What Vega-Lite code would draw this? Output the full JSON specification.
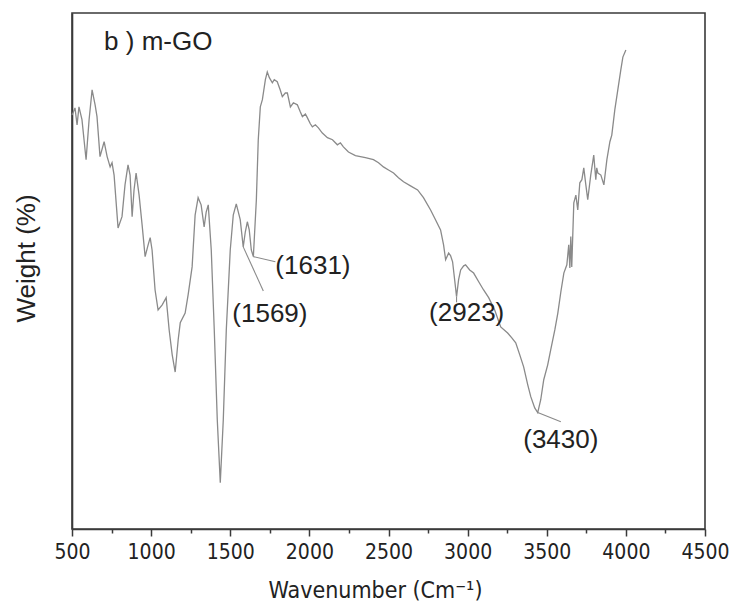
{
  "$schema": "https://vega.github.io/schema/vega-lite/v6.json",
  "width": 633,
  "height": 516,
  "autosize": {"type": "none"},
  "padding": {"left": 72, "top": 13, "right": 26, "bottom": 83},
  "background": "white",
  "config": {
    "font": "Liberation Sans",
    "view": {"stroke": "#3a3a3a", "strokeWidth": 1.6}
  },
  "datasets": {
    "spectrum": [
      {"wn":500,"v":79.1},{"wn":506,"v":79.5},{"wn":519,"v":80.5},{"wn":532,"v":77.2},{"wn":544,"v":80.7},{"wn":563,"v":78.2},{"wn":589,"v":70.4},{"wn":608,"v":78.2},{"wn":627,"v":84.0},{"wn":646,"v":81.1},{"wn":658,"v":78.8},{"wn":677,"v":71.0},{"wn":703,"v":73.9},{"wn":722,"v":71.0},{"wn":741,"v":69.0},{"wn":753,"v":69.8},{"wn":766,"v":67.4},{"wn":791,"v":57.1},{"wn":816,"v":59.3},{"wn":835,"v":65.5},{"wn":854,"v":69.4},{"wn":867,"v":67.4},{"wn":880,"v":59.3},{"wn":892,"v":64.5},{"wn":905,"v":67.8},{"wn":924,"v":63.5},{"wn":943,"v":57.7},{"wn":962,"v":51.5},{"wn":981,"v":53.8},{"wn":994,"v":55.2},{"wn":1006,"v":52.8},{"wn":1025,"v":45.0},{"wn":1044,"v":41.1},{"wn":1070,"v":42.1},{"wn":1095,"v":43.5},{"wn":1114,"v":37.2},{"wn":1133,"v":32.4},{"wn":1152,"v":29.0},{"wn":1171,"v":35.3},{"wn":1184,"v":38.6},{"wn":1215,"v":40.5},{"wn":1234,"v":44.1},{"wn":1259,"v":49.5},{"wn":1278,"v":59.6},{"wn":1297,"v":63.0},{"wn":1316,"v":61.6},{"wn":1335,"v":57.3},{"wn":1348,"v":60.2},{"wn":1361,"v":61.6},{"wn":1380,"v":52.8},{"wn":1399,"v":37.2},{"wn":1418,"v":19.7},{"wn":1437,"v":7.4},{"wn":1456,"v":19.7},{"wn":1475,"v":37.2},{"wn":1500,"v":52.8},{"wn":1519,"v":59.6},{"wn":1538,"v":61.8},{"wn":1563,"v":58.7},{"wn":1582,"v":53.4},{"wn":1595,"v":56.3},{"wn":1608,"v":58.3},{"wn":1620,"v":56.7},{"wn":1633,"v":52.8},{"wn":1646,"v":51.5},{"wn":1665,"v":62.6},{"wn":1677,"v":74.3},{"wn":1690,"v":80.7},{"wn":1703,"v":82.1},{"wn":1722,"v":86.0},{"wn":1734,"v":87.5},{"wn":1747,"v":86.4},{"wn":1766,"v":85.4},{"wn":1778,"v":86.0},{"wn":1797,"v":85.6},{"wn":1816,"v":84.0},{"wn":1829,"v":82.7},{"wn":1848,"v":83.4},{"wn":1861,"v":83.4},{"wn":1880,"v":80.7},{"wn":1899,"v":81.5},{"wn":1924,"v":81.1},{"wn":1943,"v":79.7},{"wn":1956,"v":78.8},{"wn":1975,"v":79.3},{"wn":1987,"v":78.6},{"wn":2006,"v":77.4},{"wn":2019,"v":76.8},{"wn":2038,"v":77.2},{"wn":2057,"v":76.6},{"wn":2082,"v":75.6},{"wn":2114,"v":74.7},{"wn":2146,"v":74.3},{"wn":2177,"v":73.3},{"wn":2196,"v":73.7},{"wn":2215,"v":72.9},{"wn":2247,"v":71.9},{"wn":2291,"v":71.2},{"wn":2354,"v":70.8},{"wn":2405,"v":70.4},{"wn":2437,"v":69.8},{"wn":2468,"v":69.0},{"wn":2500,"v":68.4},{"wn":2532,"v":67.8},{"wn":2563,"v":66.9},{"wn":2595,"v":66.1},{"wn":2639,"v":65.3},{"wn":2684,"v":64.5},{"wn":2721,"v":63.0},{"wn":2766,"v":60.6},{"wn":2797,"v":58.7},{"wn":2829,"v":56.7},{"wn":2848,"v":53.8},{"wn":2861,"v":50.9},{"wn":2880,"v":52.2},{"wn":2892,"v":51.7},{"wn":2905,"v":50.5},{"wn":2918,"v":47.0},{"wn":2930,"v":43.7},{"wn":2943,"v":47.0},{"wn":2956,"v":48.9},{"wn":2975,"v":49.7},{"wn":2987,"v":49.9},{"wn":3013,"v":48.9},{"wn":3038,"v":48.3},{"wn":3070,"v":46.6},{"wn":3101,"v":45.0},{"wn":3133,"v":43.5},{"wn":3171,"v":41.1},{"wn":3209,"v":37.8},{"wn":3253,"v":36.6},{"wn":3278,"v":35.7},{"wn":3304,"v":34.7},{"wn":3329,"v":32.4},{"wn":3354,"v":30.0},{"wn":3380,"v":26.5},{"wn":3399,"v":24.2},{"wn":3424,"v":22.0},{"wn":3443,"v":21.1},{"wn":3462,"v":23.6},{"wn":3481,"v":27.5},{"wn":3506,"v":30.4},{"wn":3525,"v":33.3},{"wn":3551,"v":37.2},{"wn":3570,"v":40.5},{"wn":3589,"v":44.6},{"wn":3608,"v":48.3},{"wn":3627,"v":49.9},{"wn":3639,"v":53.8},{"wn":3646,"v":49.3},{"wn":3652,"v":55.4},{"wn":3658,"v":49.5},{"wn":3671,"v":62.0},{"wn":3684,"v":63.5},{"wn":3696,"v":60.6},{"wn":3709,"v":65.9},{"wn":3722,"v":66.5},{"wn":3734,"v":68.8},{"wn":3747,"v":65.5},{"wn":3759,"v":62.6},{"wn":3778,"v":67.4},{"wn":3797,"v":71.3},{"wn":3810,"v":66.5},{"wn":3816,"v":68.8},{"wn":3823,"v":67.8},{"wn":3842,"v":67.4},{"wn":3861,"v":65.5},{"wn":3880,"v":70.4},{"wn":3899,"v":73.9},{"wn":3911,"v":75.2},{"wn":3930,"v":80.1},{"wn":3949,"v":84.0},{"wn":3968,"v":87.9},{"wn":3981,"v":90.4},{"wn":4000,"v":91.8}
    ],
    "leaders": [
      {"wn":1646,"v":51.5,"wn2":1785,"v2":50.5},
      {"wn":1582,"v":53.4,"wn2":1709,"v2":44.8},
      {"wn":2930,"v":43.7,"wn2":2930,"v2":42.6},
      {"wn":3443,"v":21.1,"wn2":3589,"v2":19.3}
    ],
    "labels": [
      {"wn":703,"v":93.4,"label":"b ) m-GO","align":"left"},
      {"wn":1785,"v":49.7,"label":"(1631)","align":"left"},
      {"wn":1513,"v":40.4,"label":"(1569)","align":"left"},
      {"wn":2994,"v":40.5,"label":"(2923)","align":"center"},
      {"wn":3589,"v":15.8,"label":"(3430)","align":"center"}
    ]
  },
  "resolve": {"axis": {"x": "independent", "y": "independent"}},
  "layer": [
    {
      "data": {"name": "spectrum"},
      "mark": {"type": "line", "color": "#8a8a8a", "strokeWidth": 1.3, "interpolate": "linear"},
      "encoding": {
        "x": {"field": "wn", "type": "quantitative",
              "scale": {"domain": [500, 4500], "nice": false, "zero": false},
              "axis": {"orient": "bottom", "values": [500,1000,1500,2000,2500,3000,3500,4000,4500],
                       "format": "d",
                       "tickSize": 7, "tickWidth": 1.5, "tickColor": "#3a3a3a",
                       "domainColor": "#3a3a3a", "domainWidth": 1.6,
                       "labelFont": "Liberation Sans Narrow, DejaVu Sans Condensed, sans-serif",
                       "labelFontSize": 21, "labelColor": "#222", "labelPadding": 5, "labelFlush": false,
                       "grid": false,
                       "title": "Wavenumber (Cm⁻¹)",
                       "titleFont": "Liberation Sans Narrow, DejaVu Sans Condensed, sans-serif",
                       "titleFontSize": 23, "titleFontWeight": "normal",
                       "titleColor": "#222", "titlePadding": 17, "titleX": 303}},
        "y": {"field": "v", "type": "quantitative",
              "scale": {"domain": [-1.6, 99.0], "nice": false, "zero": false},
              "axis": {"orient": "left", "ticks": false, "labels": false, "grid": false,
                       "domainColor": "#3a3a3a", "domainWidth": 1.6,
                       "title": "Weight (%)", "titleFontSize": 26, "titleFontWeight": "normal",
                       "titleColor": "#222", "titlePadding": 33, "titleY": 245}}
      }
    },
    {
      "data": {"name": "leaders"},
      "mark": {"type": "rule", "color": "#8a8a8a", "strokeWidth": 1.1},
      "encoding": {
        "x": {"field": "wn", "type": "quantitative",
              "axis": {"orient": "bottom", "values": [750,1250,1750,2250,2750,3250,3750,4250],
                       "tickSize": 4, "tickWidth": 1.5, "tickColor": "#3a3a3a", "labels": false,
                       "domain": false, "grid": false, "title": null}},
        "x2": {"field": "wn2"},
        "y": {"field": "v", "type": "quantitative", "axis": null},
        "y2": {"field": "v2"}
      }
    },
    {
      "data": {"name": "labels"},
      "transform": [{"filter": "datum.align === 'left'"}],
      "mark": {"type": "text", "fontSize": 26, "color": "#222", "baseline": "middle", "align": "left"},
      "encoding": {
        "x": {"field": "wn", "type": "quantitative", "axis": null},
        "y": {"field": "v", "type": "quantitative", "axis": null},
        "text": {"field": "label"}
      }
    },
    {
      "data": {"name": "labels"},
      "transform": [{"filter": "datum.align === 'center'"}],
      "mark": {"type": "text", "fontSize": 26, "color": "#222", "baseline": "middle", "align": "center"},
      "encoding": {
        "x": {"field": "wn", "type": "quantitative", "axis": null},
        "y": {"field": "v", "type": "quantitative", "axis": null},
        "text": {"field": "label"}
      }
    }
  ]
}
